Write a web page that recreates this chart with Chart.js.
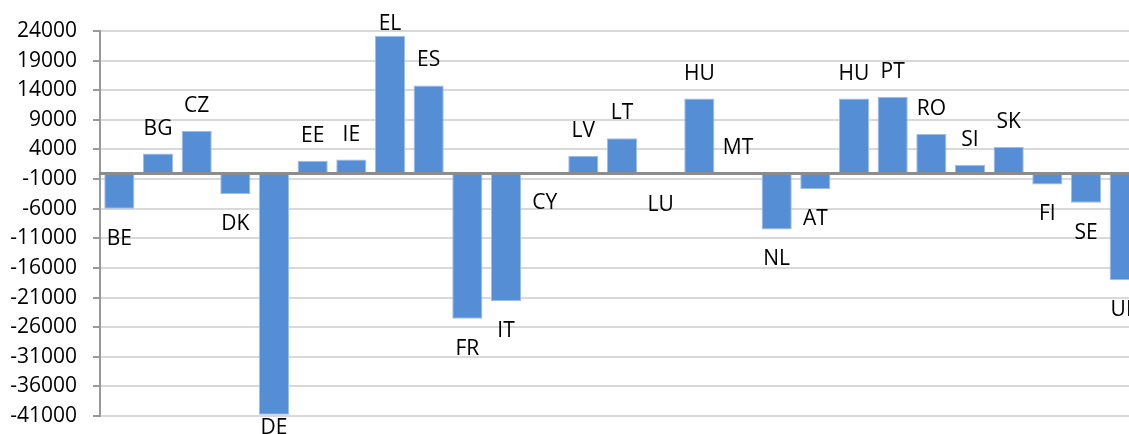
<!DOCTYPE html>
<html>
<head>
<meta charset="utf-8">
<script src="https://cdn.jsdelivr.net/npm/chart.js@4/dist/chart.umd.min.js"></script>
<style>
  html, body { margin: 0; padding: 0; background: #fff; overflow: hidden; }
</style>
</head>
<body>
<canvas id="c" width="1146" height="434"></canvas>
<script>
const countries = ['BE', 'BG', 'CZ', 'DK', 'DE', 'EE', 'IE', 'EL', 'ES', 'FR', 'IT', 'CY', 'LV', 'LT',
  'LU', 'HU', 'MT', 'NL', 'AT', 'HU', 'PT', 'RO', 'SI', 'SK', 'FI', 'SE', 'UK'];
const balance = [-6000, 3300, 7100, -3500, -40800, 2100, 2300, 23200, 14800, -24600, -21600, -40, 2900, 5900,
  -300, 12600, 40, -9500, -2700, 12600, 12900, 6600, 1400, 4400, -1900, -5000, -18100];
const yTicks = [24000, 19000, 14000, 9000, 4000, -1000, -6000, -11000, -16000, -21000, -26000, -31000, -36000, -41000];

const font = { family: 'Open Sans', size: 21 };

// category name written above / below each bar (like excel's data labels)
const barNames = {
  id: 'barNames',
  afterDatasetsDraw(chart) {
    const ctx = chart.ctx;
    const area = chart.chartArea;
    const meta = chart.getDatasetMeta(0);
    ctx.save();
    ctx.font = font.size + 'px "' + font.family + '"';
    ctx.fillStyle = '#000';
    ctx.textAlign = 'center';
    ctx.textBaseline = 'alphabetic';
    meta.data.forEach((bar, i) => {
      let y = balance[i] >= 0 ? bar.y - 19 : bar.y + 36;
      // keep the labels inside the picture like excel does
      y = Math.max(y, area.top - 1);
      y = Math.min(y, area.bottom + 18);
      ctx.fillText(countries[i], bar.x, y);
    });
    ctx.restore();
  }
};

new Chart(document.getElementById('c'), {
  type: 'bar',
  data: {
    labels: countries,
    datasets: [{
      data: balance,
      backgroundColor: '#558ed5',
      borderColor: '#9dbde8',
      borderWidth: 1,
      barPercentage: 0.78,
      categoryPercentage: 1
    }]
  },
  options: {
    responsive: false,
    animation: false,
    layout: { padding: { top: 31, bottom: 18, left: 0, right: 2 } },
    plugins: {
      legend: { display: false },
      tooltip: { enabled: false }
    },
    scales: {
      x: {
        position: { y: 0 }, // axis line crosses at zero
        afterFit: axis => { axis.height = 0; },
        grid: { display: false },
        ticks: { display: false },
        border: { display: true, color: '#8c8c8c', width: 3, z: 1 }
      },
      y: {
        min: -41000,
        max: 24000,
        afterBuildTicks: axis => { axis.ticks = yTicks.map(v => ({ value: v })); },
        afterFit: axis => {
          axis.width = 100;
          axis.paddingTop = 0;
          axis.paddingBottom = 0;
        },
        ticks: { font: font, color: '#000', padding: 16, callback: v => String(v) },
        grid: { color: '#d9d9d9', lineWidth: 2, tickColor: '#999', tickLength: 7, tickWidth: 2 },
        border: { color: '#999', width: 2 }
      }
    }
  },
  plugins: [barNames]
});
</script>
</body>
</html>
